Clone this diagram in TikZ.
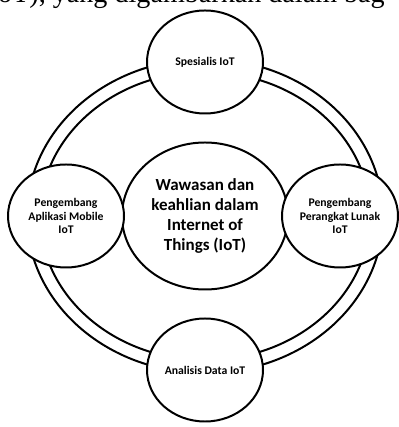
\documentclass[tikz,border=0pt]{standalone}
\usepackage{fontspec}
\setmainfont{Carlito}
\newfontfamily\captionserif{Liberation Serif}
\usetikzlibrary{shapes.geometric}

\begin{document}
\begin{tikzpicture}[
    x=0.03cm, y=0.03cm,
    ring/.style={draw=black, line width=1.7pt},
    hub/.style={ellipse, draw=black, line width=1.7pt, fill=white, inner sep=0pt, minimum width=4.98cm, minimum height=4.41cm, align=center, font=\bfseries\fontsize{14.5}{17}\selectfont},
    role/.style={ellipse, draw=black, line width=1.7pt, fill=white, inner sep=0pt, minimum width=3.48cm, minimum height=3.09cm, align=center, font=\bfseries\fontsize{10}{11.5}\selectfont}
]
\useasboundingbox (0,0) rectangle (398,427);

% Cropped line of running text (top)
\node[anchor=base west, inner sep=0pt, font=\captionserif\fontsize{24}{28}\selectfont] (captionline) at (-2,424.5) {oT), yang digambarkan dalam bag};

% Double ring
\draw[ring] (205,211) ellipse [x radius=178, y radius=157];
\draw[ring] (205,211) ellipse [x radius=165, y radius=144];

% Center
\node[hub] (center) at (205,211) {Wawasan dan\\keahlian dalam\\Internet of\\Things (IoT)};

% Roles on the ring
\node[role] (specialist) at (205,365) {Spesialis IoT};
\node[role] (mobiledev) at (66,211) {Pengembang\\Aplikasi Mobile\\IoT};
\node[role] (softdev) at (340,211) {Pengembang\\Perangkat Lunak\\IoT};
\node[role] (analyst) at (205,57) {Analisis Data IoT};

\end{tikzpicture}
\end{document}
